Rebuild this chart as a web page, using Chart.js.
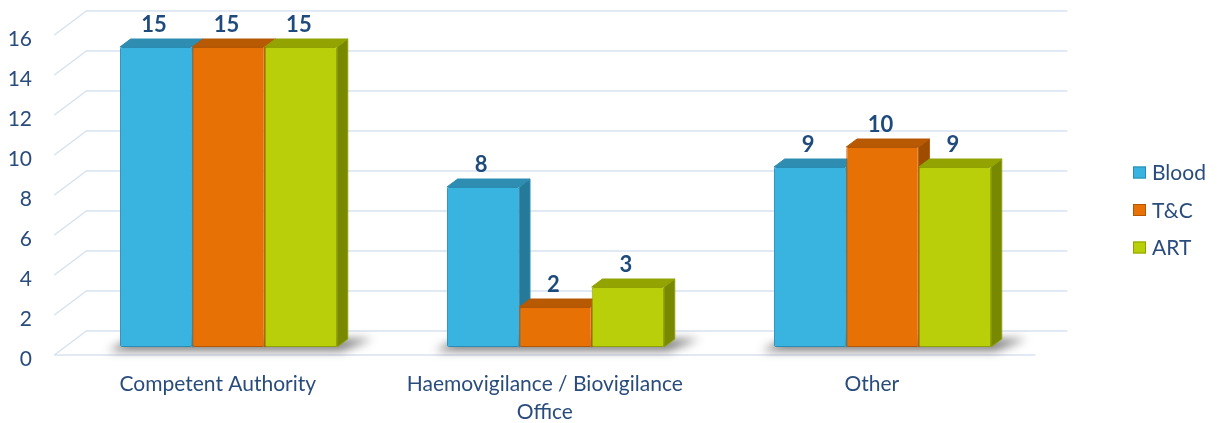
<!DOCTYPE html>
<html>
<head>
<meta charset="utf-8">
<script src="https://cdn.jsdelivr.net/npm/chart.js@4.4.1/dist/chart.umd.min.js"></script>
<style>
  html, body { margin: 0; padding: 0; background: #fff; }
  #wrap { width: 1219px; height: 423px; }
</style>
</head>
<body>
<div id="wrap"><canvas id="myChart"></canvas></div>
<script>
// categories and counts per sector
const categories = ['Competent Authority', ['Haemovigilance / Biovigilance', 'Office'], 'Other'];
const seriesNames = ['Blood', 'T&C', 'ART'];
const bloodValues = [15, 8, 9];
const tcValues = [15, 2, 10];
const artValues = [15, 3, 9];
const yTicks = [0, 2, 4, 6, 8, 10, 12, 14, 16];

// front / top / side shades for each series
const faceColors = [
    { front: '#39B3E0', edge: '#2A8CB2', top: '#2E8DB0', side: '#267A99' },
    { front: '#E87106', edge: '#B45704', top: '#B85A03', side: '#9E4C00' },
    { front: '#B9CF0A', edge: '#8FA103', top: '#93A402', side: '#788800' }
];

const TEXT = '#294C7C';
const GRID = '#D8E2F1';
const FONT = 'Lato';
// one step of depth in the oblique projection
const DX = 10.7, DY = 8;

const ctx = document.getElementById('myChart');

const depth3d = {
    id: 'depth3d',
    beforeDatasetsDraw(chart) {
        const c = chart.ctx;
        const area = chart.chartArea;
        const y = chart.scales.y;

        c.save();
        c.strokeStyle = GRID;
        c.lineWidth = 1.5;
        // left wall diagonals and back wall lines
        yTicks.forEach(v => {
            const py = y.getPixelForValue(v);
            c.beginPath();
            c.moveTo(area.left - DX, py + DY);
            c.lineTo(area.left + 2 * DX, py - 2 * DY);
            c.lineTo(area.right + 2 * DX, py - 2 * DY);
            c.stroke();
        });
        // front edge of the floor
        const p0 = y.getPixelForValue(0);
        c.beginPath();
        c.moveTo(area.left - DX, p0 + DY);
        c.lineTo(area.right - DX, p0 + DY);
        c.stroke();

        // soft shadows under each cluster
        const metas = chart.getSortedVisibleDatasetMetas().slice().sort((a, b) => a.index - b.index);
        const first = metas[0], last = metas[metas.length - 1];
        c.filter = 'blur(5px)';
        c.fillStyle = 'rgba(40,40,40,0.6)';
        first.data.forEach((el, i) => {
            const l = el.x - el.width / 2;
            const lastEl = last.data[i];
            const r = lastEl.x + lastEl.width / 2;
            const b = el.base;
            c.beginPath();
            c.moveTo(l - 12, b + 4);
            c.lineTo(r + 4, b + 4);
            c.lineTo(r + 2 * DX + 14, b - DY);
            c.lineTo(l + DX, b - DY);
            c.closePath();
            c.fill();
        });
        c.filter = 'none';

        // top and side faces, left to right
        first.data.forEach((_, i) => {
            metas.forEach(meta => {
                const el = meta.data[i];
                const col = faceColors[meta.index];
                const L = el.x - el.width / 2, R = el.x + el.width / 2;
                const T = el.y, B = el.base;
                c.lineWidth = 1;
                c.strokeStyle = col.edge;
                c.fillStyle = col.side;
                c.beginPath();
                c.moveTo(R, T);
                c.lineTo(R + DX, T - DY);
                c.lineTo(R + DX, B - DY);
                c.lineTo(R, B);
                c.closePath();
                c.fill();
                c.stroke();
                c.fillStyle = col.top;
                c.beginPath();
                c.moveTo(L, T);
                c.lineTo(L + DX, T - DY);
                c.lineTo(R + DX, T - DY);
                c.lineTo(R, T);
                c.closePath();
                c.fill();
                c.stroke();
            });
        });
        c.restore();
    },
    afterDatasetsDraw(chart) {
        const c = chart.ctx;
        c.save();
        c.font = 'bold 22px ' + FONT;
        c.fillStyle = '#1F4A7C';
        c.textAlign = 'center';
        c.textBaseline = 'middle';
        chart.data.datasets.forEach((ds, di) => {
            chart.getDatasetMeta(di).data.forEach((el, i) => {
                c.fillText(String(ds.data[i]), el.x - 2, el.y - 22);
            });
        });
        c.restore();
    },
    afterDraw(chart) {
        // legend with bevelled swatches
        const c = chart.ctx;
        const x = chart.chartArea.right + 87;
        const mid = chart.height / 2 - 1.5;
        c.save();
        c.font = '21px ' + FONT;
        c.textBaseline = 'middle';
        c.textAlign = 'left';
        chart.data.datasets.forEach((ds, i) => {
            const cy = mid + (i - 1) * 37.5;
            const col = faceColors[i];
            c.fillStyle = col.front;
            c.fillRect(x, cy - 6, 13, 12);
            c.strokeStyle = col.edge;
            c.lineWidth = 1;
            c.strokeRect(x + 0.5, cy - 5.5, 12, 11);
            c.fillStyle = TEXT;
            c.fillText(ds.label, x + 19, cy + 1);
        });
        c.restore();
    }
};

new Chart(ctx, {
    type: 'bar',
    data: {
        labels: categories,
        datasets: [
            { label: seriesNames[0], data: bloodValues },
            { label: seriesNames[1], data: tcValues },
            { label: seriesNames[2], data: artValues }
        ].map((ds, i) => Object.assign(ds, {
            backgroundColor: faceColors[i].front,
            borderColor: faceColors[i].edge,
            borderWidth: 1,
            borderRadius: 2,
            borderSkipped: false,
            categoryPercentage: 0.664,
            barPercentage: 1
        }))
    },
    options: {
        responsive: true,
        maintainAspectRatio: false,
        animation: false,
        layout: { padding: { top: 27, right: 173, left: 0, bottom: 0 } },
        scales: {
            x: {
                grid: { display: false },
                border: { display: false },
                ticks: {
                    color: TEXT,
                    font: { family: FONT, size: 21, lineHeight: 1.3 },
                    padding: 16,
                    labelOffset: -DX,
                    maxRotation: 0,
                    autoSkip: false
                },
                afterFit: s => { s.height = 76; }
            },
            y: {
                min: 0,
                max: 16,
                grid: { display: false },
                border: { display: false },
                ticks: {
                    stepSize: 2,
                    color: TEXT,
                    font: { family: FONT, size: 21 },
                    padding: 25,
                    labelOffset: 12
                },
                // fixed width; no extra room above/below for the labels
                afterFit: s => { s.width = 65; s.paddingTop = 0; s.paddingBottom = 0; }
            }
        },
        plugins: {
            legend: { display: false },
            tooltip: { enabled: false }
        }
    },
    plugins: [depth3d]
});
</script>
</body>
</html>
